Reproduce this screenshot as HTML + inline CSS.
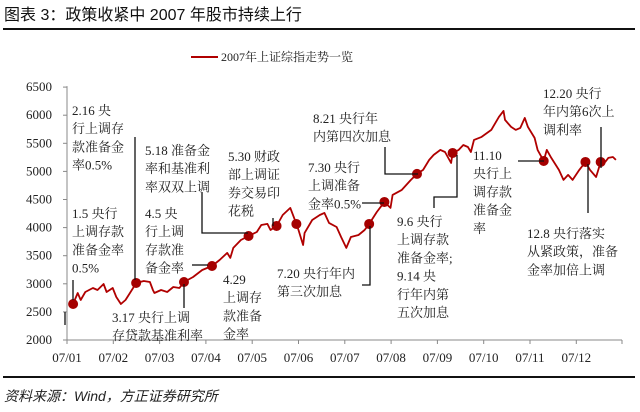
<!DOCTYPE html>
<html><head><meta charset="utf-8">
<style>
html,body{margin:0;padding:0;background:#fff;}
body{width:640px;height:412px;overflow:hidden;position:relative;}
svg{position:absolute;left:0;top:0;}
text{font-family:"Liberation Serif","Noto Serif CJK SC",serif;fill:#222;}
</style></head>
<body>
<svg id="chart" width="640" height="412" viewBox="0 0 640 412">
  <text x="4" y="20" style="font-family:'Liberation Sans','Noto Sans CJK SC',sans-serif;font-size:16px;fill:#111">图表 3：政策收紧中 2007 年股市持续上行</text>
  <rect x="3" y="28" width="632" height="2" fill="#111"/>
  <g>
    <line x1="191" y1="57" x2="218" y2="57" stroke="#b00000" stroke-width="2"/>
    <text x="221" y="61" font-size="12">2007年上证综指走势一览</text>
  </g>
  <g id="axes"></g>
  <g id="series"></g>
  <g id="notes"></g>
  <rect x="3" y="376" width="632" height="2" fill="#111"/>
  <text x="4" y="401" font-size="14" font-style="italic" style="font-family:'Liberation Sans','Noto Sans CJK SC',sans-serif">资料来源：Wind，方正证券研究所</text>
</svg>
<script>
const dates = ["01/05","01/08","01/10","01/13","01/18","01/21","01/25","01/27","01/31","02/03","02/06","02/09","02/14","02/16","02/21","02/25","02/27","02/28","03/02","03/06","03/10","03/14","03/17","03/23","03/29","04/05","04/10","04/15","04/17","04/19","04/24","04/29","05/04","05/07","05/11","05/13","05/17","05/21","05/26","05/30","06/01","06/04","06/05","06/10","06/15","06/18","06/21","06/26","06/29","07/02","07/05","07/10","07/14","07/17","07/22","07/27","07/31","08/02","08/08","08/14","08/18","08/22","08/26","08/29","09/03","09/06","09/10","09/11","09/15","09/18","09/21","09/23","09/25","09/30","10/06","10/11","10/14","10/15","10/19","10/22","10/25","10/28","10/30","11/04","11/06","11/10","11/12","11/15","11/20","11/23","11/26","11/29","12/03","12/07","12/10","12/14","12/17","12/20","12/22","12/25","12/27"];
const values = [2641,2837,2712,2854,2926,2890,2997,2854,2926,2765,2641,2712,2926,3015,3050,3032,2890,2837,2890,2854,2943,2926,3032,3121,3246,3317,3424,3549,3460,3638,3780,3851,3922,4047,4065,3958,4029,4225,4350,4065,3958,3691,3905,4136,4225,4261,4083,4011,3833,3638,3833,3869,3958,4065,4278,4456,4350,4581,4670,4848,4955,5026,5204,5293,5382,5346,5150,5328,5382,5470,5435,5346,5560,5613,5738,5969,6076,5916,5791,5738,5774,5952,5791,5596,5382,5186,5382,5240,5026,4848,4937,4848,5026,5168,5026,4901,5168,5168,5240,5257,5204];
const eventDates = ["01/05","02/16","03/17","04/05","04/29","05/17","05/30","07/17","07/27","08/18","09/11","11/10","12/07","12/17"];
const yTicks = [2000,2500,3000,3500,4000,4500,5000,5500,6000,6500];
const xLabels = ["07/01","07/02","07/03","07/04","07/05","07/06","07/07","07/08","07/09","07/10","07/11","07/12"];

const NS="http://www.w3.org/2000/svg";
function mk(tag,attrs,parent){const e=document.createElementNS(NS,tag);for(const k in attrs)e.setAttribute(k,attrs[k]);parent.appendChild(e);return e;}
const X0=67,MW=46.3,Y0=340,PXV=56.2/1000;
function xMonth(i){return X0+i*MW;}
function xDate(s){const [m,d]=s.split("/").map(Number);return X0+(m-1+(d-1)/30.4)*MW;}
function yVal(v){return Y0-(v-2000)*PXV;}

const axes=document.getElementById("axes");
const yAxis=mk("line",{x1:X0,y1:yVal(6500)-1,x2:X0,y2:Y0,stroke:"#888","stroke-width":1},axes);


const xAxis=mk("line",{x1:X0,y1:Y0,x2:622,y2:Y0,stroke:"#888","stroke-width":1},axes);


yTicks.forEach(v=>{
  const t=mk("line",{x1:X0-4,y1:yVal(v),x2:X0,y2:yVal(v),stroke:"#888"},axes);
  
  
  const l=mk("text",{x:52,y:yVal(v)+4,"text-anchor":"end","font-size":13},axes);
  l.textContent=v;
  
  
});
xLabels.forEach((s,i)=>{
  const t=mk("line",{x1:xMonth(i),y1:Y0,x2:xMonth(i),y2:Y0+4,stroke:"#888"},axes);
  
  
  const l=mk("text",{x:xMonth(i),y:Y0+22,"text-anchor":"middle","font-size":13},axes);
  l.textContent=s;
  
  
});
const rt=mk("line",{x1:622,y1:Y0,x2:622,y2:Y0+4,stroke:"#888"},axes);



const series=document.getElementById("series");
const pts=dates.map((d,i)=>xDate(d).toFixed(1)+","+yVal(values[i]).toFixed(1)).join(" ");
const line=mk("polyline",{points:pts,fill:"none",stroke:"#b00000","stroke-width":1.8,"stroke-linejoin":"round"},series);


eventDates.forEach(d=>{
  const i=dates.indexOf(d);
  const c=mk("circle",{cx:xDate(d),cy:yVal(values[i]),r:5,fill:"#a50000"},series);
  
  
});

const notes=document.getElementById("notes");
function note(name,x,y,lines,path){
  const g=mk("g",{},notes);
  
  
  lines.forEach((s,i)=>{const t=mk("text",{x:x,y:y+i*18.2,"font-size":13},g);t.textContent=s;});
  if(path){mk("polyline",{points:path,fill:"none",stroke:"#111","stroke-width":1.3},g);}
}
note("note-1-5",72,218,["1.5 央行","上调存款","准备金率","0.5%"],"73,280 73,300");
note("note-2-16",72,115,["2.16 央","行上调存","款准备金","率0.5%"],"135,137 135,280");
note("note-3-17",112,322,["3.17 央行上调","存贷款基准利率"],"184,284 184,308");
note("note-4-5",145,218,["4.5 央","行上调","存款准","备金率"],"192,265 208,265");
note("note-5-18",145,155,["5.18 准备金","率和基准利","率双双上调"],"202,192 202,233 248,233");
note("note-4-29",223,284,["4.29","上调存","款准备","金率"],null);
note("note-5-30",228,161,["5.30 财政","部上调证","券交易印","花税"],"273,218 273,226");
note("note-7-20",277,278,["7.20 央行年内","第三次加息"],"370,226 370,285 362,285");
note("note-7-30",308,172,["7.30 央行","上调准备","金率0.5%"],"362,203 384,203");
note("note-8-21",313,123,["8.21 央行年","内第四次加息"],"385,147 385,174 418,174");
note("note-9-6",397,226,["9.6 央行","上调存款","准备金率;","9.14 央","行年内第","五次加息"],"457,155 457,197 434,197 434,208");
note("note-11-10",473,160,["11.10","央行上","调存款","准备金","率"],"518,161 544,161");
note("note-12-20",543,98,["12.20 央行","年内第6次上","调利率"],"601,127 601,168");
note("note-12-8",527,238,["12.8 央行落实","从紧政策，准备","金率加倍上调"],"588,164 588,213");
const mark=mk("line",{x1:65,y1:312,x2:65,y2:325,stroke:"#111","stroke-width":1.3},notes);


</script>
</body></html>
